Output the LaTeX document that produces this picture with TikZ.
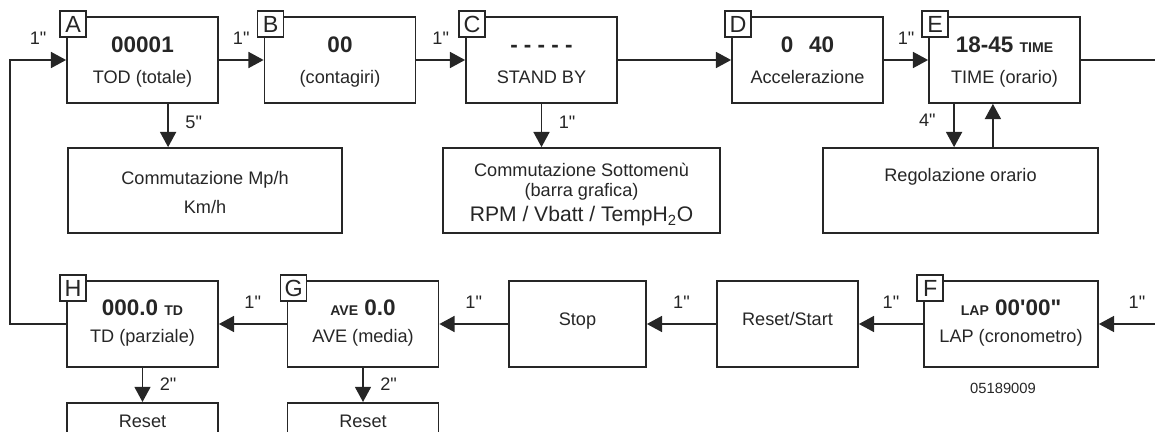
\documentclass[tikz,border=0pt]{standalone}
\usepackage{fontspec}
\setmainfont{Liberation Sans}[Ligatures=TeXOff]
\usetikzlibrary{arrows.meta, positioning}
\definecolor{inkdark}{HTML}{262626}
% display readouts: big bold digits and the small bold mode tags
\newcommand{\bignum}{\fontsize{16}{16}\selectfont\bfseries}
\newcommand{\smalltag}{\fontsize{10}{10}\selectfont\bfseries}

\begin{document}
\begin{tikzpicture}[x=0.025cm, y=-0.025cm, color=inkdark,
  font=\fontsize{12.9}{15}\selectfont,
  box/.style={draw=inkdark, line width=1.2pt, inner sep=0pt, align=center,
    minimum width=3.775cm, minimum height=2.15cm},
  stagetop/.style={box, text height=36pt, text depth=2pt},
  stagebot/.style={box, text height=27.6pt, text depth=2pt},
  tag/.style={draw=inkdark, line width=1pt, fill=white, minimum size=0.65cm,
    inner sep=0pt, font=\fontsize{16.6}{16.6}\selectfont},
  flow/.style={draw=inkdark, line width=1.2pt, -{Triangle[length=0.38cm, width=0.4cm]}},
  hlab/.style={midway, yshift=0.54cm},
  rlab/.style={xshift=0.64cm},
  llab/.style={xshift=-0.67cm}]
  \useasboundingbox (0,0) rectangle (1155,432);
  \clip (0,0) rectangle (1155,432);

  % upper row of display pages
  \node[stagetop] (A) at (142.5,60) {{\bignum 00001}\\[7pt]TOD (totale)};
  \node[stagetop] (B) at (340,60) {{\bignum 00}\\[7pt](contagiri)};
  \node[stagetop] (C) at (541.5,60) {{\bignum - - - - -}\\[7pt]STAND BY};
  \node[stagetop] (D) at (807.5,60) {{\bignum 0\hspace{0.7em}40}\\[7pt]Accelerazione};
  \node[stagetop] (E) at (1004.5,60) {{\bignum 18-45 {\smalltag TIME}}\\[7pt]TIME (orario)};

  % sub menus reached by holding the button
  \node[box, minimum width=6.85cm, minimum height=2.125cm, text height=34.8pt, text depth=2pt]
    (Mph) at (205,190.5) {Commutazione Mp/h\\[5.6pt]Km/h};
  \node[box, minimum width=6.925cm, minimum height=2.125cm, text height=47.6pt, text depth=3pt]
    (Sub) at (581.5,190.5) {Commutazione Sottomenù\\[-0.8pt](barra grafica)\\[3pt]%
    {\fontsize{15}{15}\selectfont RPM / Vbatt / TempH\textsubscript{2}O}};
  \node[box, minimum width=6.875cm, minimum height=2.125cm, text height=9pt, text depth=21.8pt]
    (Reg) at (960.5,190.5) {Regolazione orario};

  % lower row, run from right to left
  \node[stagebot] (H) at (142.5,324) {{\bignum 000.0 {\smalltag TD}}\\[3.5pt]TD (parziale)};
  \node[stagebot] (G) at (363,324) {{\bignum{\smalltag AVE} 0.0}\\[3.5pt]AVE (media)};
  \node[box, minimum width=3.425cm, text height=9.5pt, text depth=6.7pt] (Stop) at (577.5,324) {Stop};
  \node[box, minimum width=3.525cm, text height=9.5pt, text depth=6.7pt] (RS) at (787.5,324) {Reset/Start};
  \node[stagebot, minimum width=4.35cm] (F) at (1011,324)
    {{\bignum{\smalltag LAP} 00'00"}\\[3.5pt]LAP (cronometro)};
  \node[box, anchor=north, text height=9pt, text depth=34.6pt] (resH) at (142.5,402) {Reset};
  \node[box, anchor=north, text height=9pt, text depth=34.6pt] (resG) at (363,402) {Reset};

  % page letters on the corners
  \foreach \p in {A,B,C,D,E,F,G,H}
    \node[tag] (tag\p) at ([shift={(7,8)}]\p.north west) {\p};

  \node[font=\fontsize{10.5}{10.5}\selectfont] (code) at (1003,388) {05189009};

  % step through the pages
  \coordinate (loopL) at (10,60);
  \coordinate (wrapR) at (1175,60);
  \draw[flow] (H.west) -| (loopL) -- node[hlab] {1"} (A.west);
  \draw[flow] (A) -- node[hlab] {1"} (B);
  \draw[flow] (B) -- node[hlab] {1"} (C);
  \draw[flow] (C) -- (D);
  \draw[flow] (D) -- node[hlab] {1"} (E);
  \draw[flow] (E.east) -| (wrapR) |- node[pos=0.75, yshift=0.54cm] {1"} (F.east);
  \draw[flow] (F) -- node[hlab] {1"} (RS);
  \draw[flow] (RS) -- node[hlab] {1"} (Stop);
  \draw[flow] (Stop) -- node[hlab] {1"} (G);
  \draw[flow] (G) -- node[hlab] {1"} (H);

  % held button: into the sub menus
  \draw[flow] ([xshift=0.64cm]A.south) coordinate (aDown) -- node[pos=0.43, rlab] {5"} (aDown |- Mph.north);
  \draw[flow] (C.south) -- node[pos=0.43, rlab] {1"} (C.south |- Sub.north);
  \draw[flow] ([xshift=-1.26cm]E.south) coordinate (eDown) -- node[pos=0.38, llab] {4"} (eDown |- Reg.north);
  \coordinate (eUp) at ([xshift=-0.29cm]E.south);
  \draw[flow] (eUp |- Reg.north) -- (eUp);
  \draw[flow] (H) -- node[pos=0.49, rlab] {2"} (resH);
  \draw[flow] (G) -- node[pos=0.49, rlab] {2"} (resG);
\end{tikzpicture}
\end{document}
